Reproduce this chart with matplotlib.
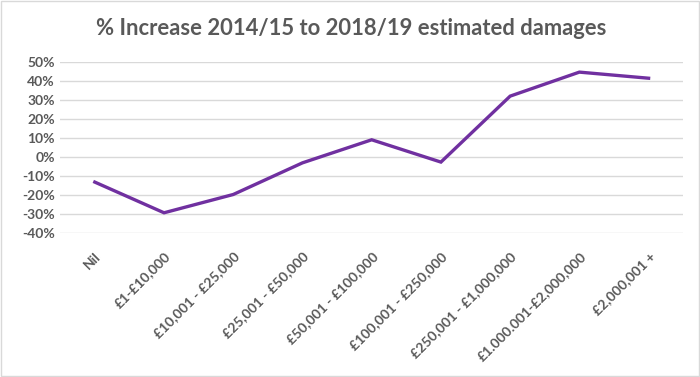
import matplotlib.pyplot as plt
from matplotlib.patches import Rectangle
from matplotlib.ticker import FuncFormatter

categories = [
    "Nil",
    "£1-£10,000",
    "£10,001 - £25,000",
    "£25,001 - £50,000",
    "£50,001 - £100,000",
    "£100,001 - £250,000",
    "£250,001 - £1,000,000",
    "£1.000.001-£2,000,000",
    "£2,000,001 +",
]
pct_increase = [-13.1, -29.2, -19.6, -3.0, 9.1, -2.6, 32.0, 44.6, 41.4]
y_ticks = [-40, -30, -20, -10, 0, 10, 20, 30, 40, 50]

grey = "#595959"
plt.rcParams["font.family"] = ["Lato", "DejaVu Sans"]

fig = plt.figure(figsize=(7, 3.77), dpi=100)
ax = fig.add_axes([0.086, 0.381, 0.89, 0.455])

x = range(len(categories))
ax.plot(x, pct_increase, color="#7030A0", linewidth=2.4, solid_joinstyle="miter")

ax.set_xlim(-0.5, len(categories) - 0.5)
ax.set_ylim(-40, 50)
ax.set_yticks(y_ticks)
ax.yaxis.set_major_formatter(FuncFormatter(lambda v, _: f"{v:.0f}%"))
ax.set_xticks(list(x))
ax.set_xticklabels(categories, rotation=45, ha="right", rotation_mode="anchor")

ax.grid(axis="y", color="#D9D9D9", linewidth=1.0)
ax.set_axisbelow(True)
for s in ax.spines.values():
    s.set_visible(False)
ax.tick_params(length=0, colors=grey, labelsize=10)
ax.tick_params(axis="y", pad=4)
ax.tick_params(axis="x", pad=12)
for lbl in ax.get_xticklabels() + ax.get_yticklabels():
    lbl.set_fontweight("bold")

fig.text(0.502, 0.925, "% Increase 2014/15 to 2018/19 estimated damages",
         ha="center", va="center", fontsize=15.8, fontweight="bold", color=grey)

fig.patches.append(Rectangle((0.002, 0.002), 0.996, 0.996, transform=fig.transFigure,
                             fill=False, edgecolor="#D9D9D9", linewidth=1))

fig.savefig("out.png", dpi=100)
